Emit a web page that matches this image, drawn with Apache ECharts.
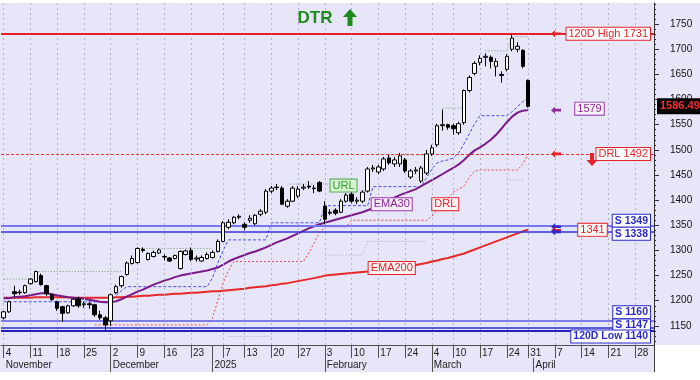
<!DOCTYPE html>
<html><head><meta charset="utf-8">
<script src="https://cdn.jsdelivr.net/npm/echarts@6/dist/echarts.min.js"></script>
<style>html,body{margin:0;padding:0;background:#fff}#c{width:700px;height:380px}</style>
</head><body><div id="c"></div>
<script>
// ---------------- DATA ----------------
const dates = [
'2024-11-04','2024-11-05','2024-11-06','2024-11-07','2024-11-08',
'2024-11-11','2024-11-12','2024-11-13','2024-11-14','2024-11-15',
'2024-11-18','2024-11-19','2024-11-20','2024-11-21','2024-11-22',
'2024-11-25','2024-11-26','2024-11-27','2024-11-28','2024-11-29',
'2024-12-02','2024-12-03','2024-12-04','2024-12-05','2024-12-06',
'2024-12-09','2024-12-10','2024-12-11','2024-12-12','2024-12-13',
'2024-12-16','2024-12-17','2024-12-18','2024-12-19','2024-12-20',
'2024-12-23','2024-12-24','2024-12-27','2024-12-30',
'2025-01-02','2025-01-03',
'2025-01-07','2025-01-08','2025-01-09','2025-01-10',
'2025-01-13','2025-01-14','2025-01-15','2025-01-16','2025-01-17',
'2025-01-20','2025-01-21','2025-01-22','2025-01-23','2025-01-24',
'2025-01-27','2025-01-28','2025-01-29','2025-01-30','2025-01-31',
'2025-02-03','2025-02-04','2025-02-05','2025-02-06','2025-02-07',
'2025-02-10','2025-02-11','2025-02-12','2025-02-13','2025-02-14',
'2025-02-17','2025-02-18','2025-02-19','2025-02-20','2025-02-21',
'2025-02-24','2025-02-25','2025-02-26','2025-02-27','2025-02-28',
'2025-03-04','2025-03-05','2025-03-06','2025-03-07',
'2025-03-10','2025-03-11','2025-03-12','2025-03-13','2025-03-14',
'2025-03-17','2025-03-18','2025-03-19','2025-03-20','2025-03-21',
'2025-03-24','2025-03-25','2025-03-26','2025-03-27',
'2025-03-31','2025-04-01','2025-04-02','2025-04-03','2025-04-04',
'2025-04-07','2025-04-08','2025-04-09','2025-04-10','2025-04-11',
'2025-04-14','2025-04-15','2025-04-16','2025-04-17','2025-04-18',
'2025-04-21','2025-04-22','2025-04-23','2025-04-24','2025-04-25',
'2025-04-28','2025-04-29','2025-04-30','2025-05-01'];

const weekTicks = [['2024-11-04','4'],['2024-11-11','11'],['2024-11-18','18'],['2024-11-25','25'],
['2024-12-02','2'],['2024-12-09','9'],['2024-12-16','16'],['2024-12-23','23'],['2025-01-02',''],
['2025-01-07','7'],['2025-01-13','13'],['2025-01-20','20'],['2025-01-27','27'],['2025-02-03','3'],
['2025-02-10','10'],['2025-02-17','17'],['2025-02-24','24'],['2025-03-04','4'],['2025-03-10','10'],
['2025-03-17','17'],['2025-03-24','24'],['2025-03-31','31'],['2025-04-07','7'],['2025-04-14','14'],
['2025-04-21','21'],['2025-04-28','28']];
const monthTicks = [['2024-11-04','November'],['2024-12-02','December'],['2025-01-02','2025'],
['2025-02-03','February'],['2025-03-04','March'],['2025-04-01','April']];
const yTickLabels = [1150,1200,1250,1300,1350,1400,1450,1500,1550,1600,1650,1700,1750];

const opens = [1166,1178,1218,1216,1216,1234,1238,1250,1230,1212,
1198,1188,1176,1190,1204,1192,1194,1192,1172,1166,
1160,1216,1230,1252,1274,1276,1302,1282,1288,1295,
1288,1285,1284,1264,1292,1300,1283,1279,1284,1286,
1298,1318,1346,1355,1366,1352,1360,1353,1372,1376,
1418,1425,1424,1388,1398,1408,1424,1428,1424,1435,
1388,1374,1380,1376,1398,1412,1398,1398,1418,1462,
1456,1462,1484,1472,1472,1480,1446,1458,1438,1454,
1492,1510,1548,1550,1548,1534,1554,1618,1652,1674,
1684,1684,1666,1650,1660,1700,1700,1698,1638];
const closes = [1178,1198,1214,1217,1230,1243,1258,1232,1214,1202,
1185,1175,1190,1203,1190,1194,1192,1172,1166,1152,
1212,1228,1248,1275,1284,1304,1300,1294,1296,1301,
1287,1279,1290,1298,1299,1282,1285,1286,1292,1296,
1318,1355,1356,1366,1368,1346,1364,1370,1378,1418,
1424,1426,1392,1398,1424,1422,1426,1426,1423,1418,
1362,1376,1374,1398,1410,1398,1400,1416,1462,1464,
1466,1482,1474,1480,1488,1458,1458,1460,1464,1492,
1504,1548,1550,1545,1542,1552,1618,1644,1672,1682,
1686,1676,1676,1648,1686,1722,1706,1666,1586.49];
const lows = [1163,1176,1208,1212,1214,1232,1236,1230,1210,1200,
1180,1158,1174,1188,1186,1186,1184,1168,1162,1140,
1150,1213,1226,1250,1272,1274,1296,1280,1286,1293,
1280,1277,1282,1262,1290,1278,1278,1277,1282,1284,
1296,1316,1342,1352,1362,1340,1355,1350,1368,1372,
1414,1420,1390,1385,1396,1404,1420,1422,1414,1416,
1352,1370,1370,1374,1395,1394,1392,1394,1415,1456,
1452,1458,1470,1466,1466,1454,1442,1452,1434,1450,
1488,1506,1538,1540,1530,1530,1550,1614,1648,1668,
1666,1662,1646,1634,1656,1696,1694,1662,1584];
const highs = [1180,1200,1230,1222,1232,1245,1260,1254,1232,1214,
1200,1190,1192,1206,1208,1198,1198,1194,1180,1170,
1214,1232,1250,1278,1290,1306,1306,1296,1300,1304,
1292,1287,1292,1300,1302,1306,1290,1290,1296,1300,
1322,1358,1362,1368,1372,1356,1370,1372,1382,1422,
1428,1432,1428,1402,1428,1428,1432,1438,1430,1438,
1398,1382,1384,1402,1414,1418,1406,1420,1466,1470,
1470,1486,1490,1486,1494,1484,1462,1466,1468,1500,
1510,1552,1580,1552,1552,1556,1620,1648,1676,1688,
1692,1688,1682,1656,1690,1731,1714,1700,1640];

const ema30 = [1205,1205,1207,1208,1209,1211,1213,1215,1215,1213,
1211,1209,1207,1206,1205,1204,1202,1200,1198,1197,
1197,1199,1203,1208,1213,1218,1222,1227,1232,1236,
1240,1243,1247,1250,1252,1254,1256,1258,1260,1263,
1266,1272,1278,1283,1287,1291,1295,1298,1302,1306,
1311,1316,1320,1324,1329,1334,1339,1344,1348,1352,
1355,1358,1361,1364,1367,1370,1373,1376,1380,1384,
1389,1394,1400,1405,1410,1414,1418,1422,1428,1434,
1440,1446,1452,1458,1464,1471,1480,1490,1499,1505,
1512,1520,1530,1542,1555,1566,1574,1578,1579];
const ema200 = [1206,1206,1206,1206,1206,1206,1207,1207,1207,1207,
1207,1207,1207,1206,1206,1206,1206,1206,1206,1206,
1206,1207,1207,1208,1208,1209,1210,1210,1211,1212,
1212,1213,1214,1214,1215,1216,1216,1217,1218,1219,
1219,1220,1221,1222,1223,1224,1226,1227,1228,1229,
1231,1232,1234,1235,1237,1239,1241,1243,1245,1247,
1250,1251,1252,1253,1254,1255,1256,1257,1258,1259,
1260,1261,1262,1264,1265,1267,1269,1271,1273,1275,
1278,1280,1283,1285,1288,1291,1294,1298,1302,1306,
1310,1314,1318,1322,1326,1330,1334,1338,1341];
const urlLine = [1243,1243,1243,1243,1243,1243,1258,1258,1258,1258,
1258,1258,1258,1258,1258,1258,1258,1258,1258,1258,
1258,1258,1258,null,null,1304,1304,1304,1304,1304,
1304,1304,1304,1304,1304,1304,1304,1304,1304,1304,
null,null,null,null,null,null,null,null,null,null,
null,null,null,1432,1432,1432,1432,1432,1432,1432,
1432,1432,null,null,null,null,null,null,null,null,
null,null,1490,1490,1490,1490,1490,1490,1490,1490,
1490,null,1583,1583,1583,1583,1583,null,null,null,
1697,1697,1697,1697,1697,1725,1725,1725,1725];
const lowBand = [1198,1198,1198,1198,1198,1198,1198,1198,1198,1198,
1198,1198,1198,1198,1198,1198,1198,1198,1198,1198,
1200,1210,1220,1228,1228,1228,1228,1228,1228,1228,
1228,1228,1228,1228,1228,1228,1228,1228,1228,1245,
1275,1300,1321,1321,1321,1321,1321,1321,1321,1321,
1355,1355,1355,1355,1355,1355,1355,1355,1355,1355,
1389,1389,1389,1389,1389,1389,1389,1389,1389,1427,
1427,1427,1427,1427,1427,1427,1427,1427,1427,1445,
1462,1474,1478,1480,1484,1494,1512,1532,1552,1568,
1568,1568,1568,1568,1568,1576,1586,1596,1603];
const drlLine = [null,null,null,null,null,null,null,null,null,null,
null,null,null,null,null,null,null,1152,1152,1152,
1152,1152,1152,1152,1152,1152,1152,1152,1152,1152,
1152,1152,1152,1152,1152,1152,1152,1152,1152,1165,
1200,1235,1260,1278,1278,1278,1278,1278,1278,1278,
1278,1278,1278,1278,1278,1278,1278,1295,1315,1335,
1347,1347,1347,1347,1347,1360,1360,1360,1360,1360,
1360,1360,1360,1360,1360,1360,1360,1360,1360,1360,
1368,1380,1392,1404,1416,1422,1428,1445,1458,1460,
1460,1460,1460,1460,1460,1460,1460,1472,1492];
const faintLine = [null,null,null,null,null,null,null,null,null,null,
null,null,null,null,null,null,null,null,null,null,
null,null,null,null,null,null,null,null,null,null,
null,null,null,null,null,null,null,null,null,null,
null,null,1129,1129,1129,1129,1129,1129,1129,1129,
1129,null,null,null,null,null,null,null,null,null,
1291,1291,1291,1291,1291,1291,1291,1291,1318,1318,
1318,1318,1318,1318,1318,1318,1318,1318,1318,1318,
null,null,null,null,null,null,null,null,null,null,
null,null,null,null,1440,1440,1440,1440,null];

const levelValues = [1731, 1492, 1349, 1338, 1160, 1147, 1140];
const levelTexts = ['120D High 1731','DRL 1492','S 1349','S 1338','S 1160','S 1147','120D Low 1140'];
const lastPrice = 1586.49;
const ema30Last = 1579;
const ema200Last = 1341;

// ---------------- CHART ----------------
const FONT = '"Liberation Sans", Arial, sans-serif';
const chart = echarts.init(document.getElementById('c'));
const candleData = opens.map((o, i) => [o, closes[i], lows[i], highs[i]]);
const weekLab = {}; weekTicks.forEach(t => { weekLab[dates.indexOf(t[0])] = t[1]; });
const gridIdx = weekTicks.filter(t => t[1] !== '').map(t => dates.indexOf(t[0]));
const monthLab = {}; monthTicks.forEach(t => { monthLab[dates.indexOf(t[0])] = t[1]; });
const monthSep = {}; monthTicks.slice(1).forEach(t => { monthSep[dates.indexOf(t[0])] = true; });
const minorTicks = []; for (let v = 1120; v <= 1790; v += 10) minorTicks.push(v);

const levelStyles = [
  {color:'#e8202a', width:2, type:'solid'},
  {color:'#f0303c', width:1.2, type:[3,2]},
  {color:'#7676ee', width:2, type:'solid'},
  {color:'#3434d4', width:1.5, type:'solid'},
  {color:'#5a5ae6', width:1.5, type:'solid'},
  {color:'#2c2cd0', width:1.5, type:'solid'},
  {color:'#2020c0', width:2, type:'solid'}
];

const lineS = (name, data, color, width, type, z) => ({
  type:'line', name, data, symbol:'none', silent:true, z,
  lineStyle:{color, width, type}, connectNulls:false
});

chart.setOption({
  animation:false,
  backgroundColor:'#ffffff',
  grid:{left:1, right:46, top:3, bottom:35},
  tooltip:{show:false},
  xAxis:[{
    type:'category', data:dates, boundaryGap:true,
    axisLine:{show:true, lineStyle:{color:'#505050', width:1}},
    axisTick:{show:true, alignWithLabel:true, length:13, interval:(i)=>weekLab[i]!==undefined, lineStyle:{color:'#505050'}},
    axisLabel:{interval:(i)=>weekLab[i]!==undefined, formatter:(v,i)=>weekLab[i]||'', align:'left', margin:3,
      padding:[0,0,0,2], fontSize:10, color:'#202020', fontFamily:FONT},
    splitLine:{show:false}
  },{
    type:'category', data:dates, boundaryGap:true, position:'bottom', offset:13,
    axisLine:{show:false},
    axisTick:{show:true, alignWithLabel:true, length:14, interval:(i)=>!!monthSep[i], lineStyle:{color:'#505050'}},
    axisLabel:{interval:(i)=>monthLab[i]!==undefined, formatter:(v,i)=>monthLab[i]||'', align:'left', margin:2,
      padding:[0,0,0,2], fontSize:10, color:'#202020', fontFamily:FONT},
    splitLine:{show:false}
  }],
  yAxis:[{
    type:'value', position:'right', min:1112, max:1792, splitNumber:14,
    axisLine:{show:true, lineStyle:{color:'#303030', width:1}},
    axisTick:{show:true, length:5, customValues:yTickLabels, lineStyle:{color:'#303030'}},
    axisLabel:{customValues:yTickLabels, margin:16, fontSize:10, color:'#111', fontFamily:FONT,
      formatter:(v)=> (v % 50 === 0 ? String(v) : '')},
    splitLine:{show:false}
  },{
    type:'value', position:'right', min:1112, max:1792,
    axisLine:{show:false},
    axisTick:{show:true, length:2, customValues:minorTicks, lineStyle:{color:'#303030'}},
    axisLabel:{show:false},
    splitLine:{show:false}
  }],
  series:[
    {type:'line', name:'weekGrid', data:dates.map(()=>null), z:1, silent:true, symbol:'none',
      markLine:{silent:true, symbol:['none','none'], label:{show:false}, animation:false,
        lineStyle:{type:[2,3], color:'#b2b2c8', width:1},
        data:gridIdx.map(i=>({xAxis:i}))}},
    {type:'line', name:'levels', data:dates.map(()=>null), z:2, silent:true, symbol:'none',
      markLine:{silent:true, symbol:['none','none'], label:{show:false}, animation:false,
        data:levelValues.map((v,k)=>({yAxis:v, lineStyle:levelStyles[k]}))}},
    lineS('faint', faintLine, '#a0a0c4', 1, [1,2], 3),
    lineS('url', urlLine, '#6a9c6a', 1, [1,2], 3),
    lineS('lowBand', lowBand, '#4848e4', 1, [3,2], 3),
    lineS('drl', drlLine, '#ee4658', 1, [2,2], 3),
    lineS('ema200', ema200, '#e62828', 2, 'solid', 4),
    lineS('ema30', ema30, '#7a1a8a', 2, 'solid', 4),
    {type:'candlestick', name:'DTR', data:candleData, barWidth:4, z:6, silent:true,
      itemStyle:{color:'#ffffff', color0:'#000000', borderColor:'#000000', borderColor0:'#000000', borderWidth:1}}
  ]
});

// ---------------- LABELS / DECORATIONS ----------------
const candleIdx = 8;
const P = (i, v) => chart.convertToPixel({seriesIndex:candleIdx}, [i, v]);
const band = P(1, 1500)[0] - P(0, 1500)[0];
const PX = (fi, v) => { const b = P(Math.floor(fi), v); return [b[0] + (fi - Math.floor(fi)) * band, b[1]]; };
const Y = (v) => P(0, v)[1];

function boxText(x, y, text, o) {
  return {type:'text', x, y, z:100, silent:true,
    style:{text, fill:o.color, font:(o.weight||'normal') + ' ' + (o.size||11) + 'px ' + FONT,
      backgroundColor:o.bg||'#ffffff', borderColor:o.border||o.color, borderWidth:1,
      padding:o.pad||[1,2,0,2], align:o.align||'center', verticalAlign:'middle'}};
}
function leftArrow(x, y, color) {
  return {type:'polygon', z:100, silent:true,
    shape:{points:[[x,y],[x+4,y-3.5],[x+4,y-1.3],[x+10,y-1.3],[x+10,y+1.3],[x+4,y+1.3],[x+4,y+3.5]]},
    style:{fill:color}};
}

const g = [];
g.push({type:'rect', z:-100, silent:true, shape:{x:0, y:3, width:700, height:342}, style:{fill:'#e6e6f8'}});
g.push({type:'rect', z:-100, silent:true, shape:{x:0, y:345, width:654, height:27}, style:{fill:'#e6e6f8'}});
g.push({type:'line', z:100, silent:true, shape:{x1:654.5, y1:345, x2:654.5, y2:372}, style:{stroke:'#404040', lineWidth:1}});

// right-side level labels
const RX = 650;
const levelLabelStyle = [
  {color:'#e8202a', dy:0},
  {color:'#e8202a', dy:0},
  {color:'#2a2ad0', dy:-5, weight:'bold', size:10.5},
  {color:'#2a2ad0', dy:2.5, weight:'bold', size:10.5},
  {color:'#2a2ad0', dy:-8.5, weight:'bold', size:10.5},
  {color:'#2a2ad0', dy:-2, weight:'bold', size:10.5},
  {color:'#2a2ad0', dy:5.5, weight:'bold', size:10.5}
];
levelValues.forEach((v, k) => {
  const s = levelLabelStyle[k];
  g.push(boxText(RX, Y(v) + s.dy, levelTexts[k], {color:s.color, align:'right', weight:s.weight, size:s.size}));
});
// arrows
const AX = 551;
g.push(leftArrow(AX, Y(1731), '#e8202a'));
g.push(leftArrow(AX, Y(ema30Last), '#8a2a9a'));
g.push(leftArrow(AX, Y(1492), '#e8202a'));
g.push(leftArrow(AX, Y(1349) + 1, '#2a2ad0'));
g.push(leftArrow(AX, Y(ema200Last) + 0.5, '#e8202a'));
g.push(leftArrow(AX, Y(1338) + 0.5, '#2a2ad0'));
// red down arrow near DRL
(function(){ const cx = 592, t = Y(1492) - 1;
  g.push({type:'polygon', z:100, silent:true, style:{fill:'#e8202a'},
    shape:{points:[[cx-2,t],[cx+2,t],[cx+2,t+7],[cx+5.5,t+7],[cx,t+13],[cx-5.5,t+7],[cx-2,t+7]]}});
})();
// value tags
g.push(boxText(589.5, Y(ema30Last) - 1.5, String(ema30Last), {color:'#8a2a9a', border:'#9a3aaa', bg:'#f6f0fa'}));
g.push(boxText(592.5, Y(ema200Last), String(ema200Last), {color:'#e8202a', bg:'#ffffff'}));
g.push(boxText(658, Y(lastPrice), lastPrice.toFixed(2), {color:'#ff2a2a', border:'#000', bg:'#000000', align:'left', weight:'bold', size:11, pad:[2,2,1,2]}));

// in-plot indicator labels
const u = PX(63.5, 1429); g.push(boxText(u[0], u[1], 'URL', {color:'#2a9a2a', border:'#4aaa4a', bg:'#d8f3d0'}));
const e3 = PX(72.5, 1392); g.push(boxText(e3[0], e3[1], 'EMA30', {color:'#8a2a9a', border:'#9a3aaa', bg:'#f3ecf8'}));
const e2 = PX(72.5, 1265); g.push(boxText(e2[0], e2[1], 'EMA200', {color:'#e8202a', bg:'#fff2f2'}));
const d = PX(82.5, 1392); g.push(boxText(d[0], d[1], 'DRL', {color:'#e8202a', bg:'#fff2f2'}));

// DTR title with up arrow
g.push({type:'text', x:315, y:18, z:100, silent:true,
  style:{text:'DTR', fill:'#1d8a1d', font:'bold 17px ' + FONT, align:'center', verticalAlign:'middle'}});
g.push({type:'polygon', z:100, silent:true, style:{fill:'#1d8a1d'},
  shape:{points:[[350,9],[357,17],[352.5,17],[352.5,26],[347.5,26],[347.5,17],[343,17]]}});

chart.setOption({graphic:g});
</script>
</body></html>
